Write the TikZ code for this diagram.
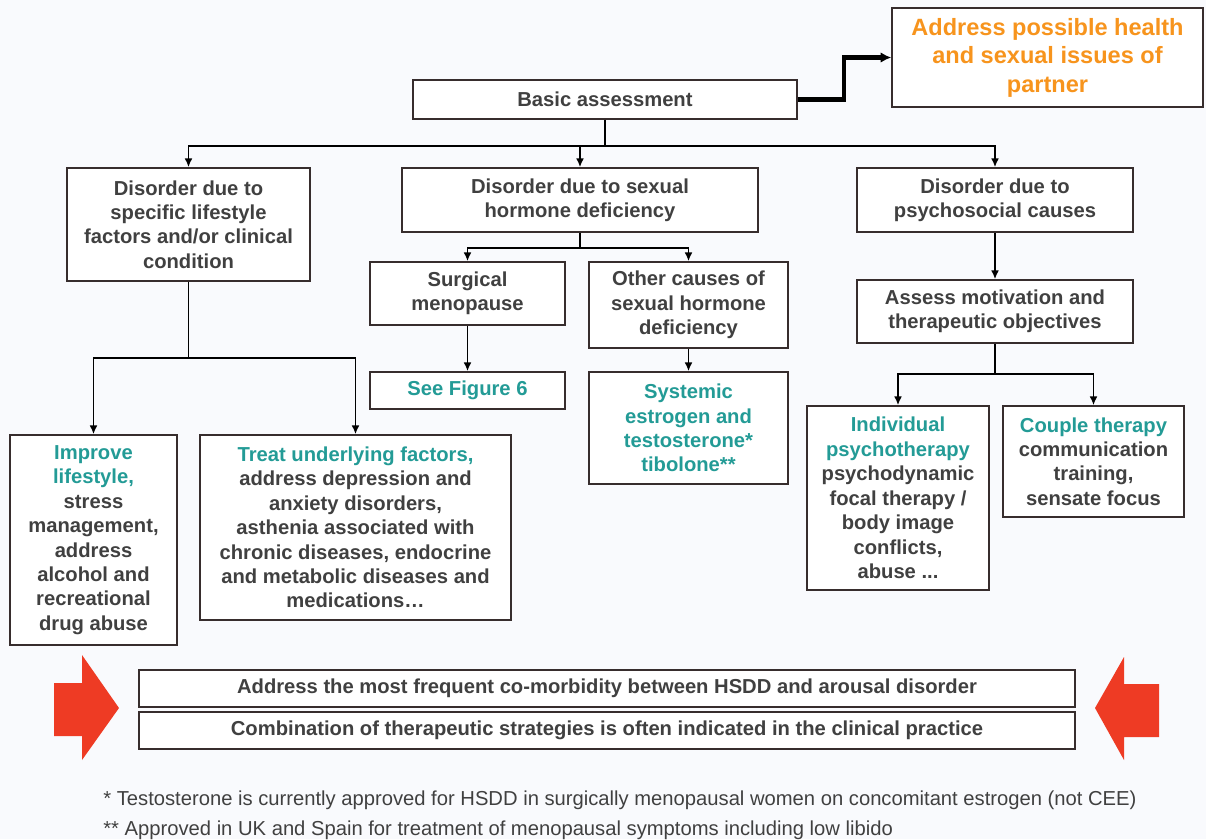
\documentclass[tikz,border=0pt]{standalone}
\usepackage{fontspec}
\setmainfont{Liberation Sans}
\usetikzlibrary{arrows.meta}

\definecolor{txtgray}{RGB}{64,64,64}
\definecolor{boxline}{RGB}{55,45,45}
\definecolor{tealtx}{RGB}{35,155,150}
\definecolor{orangetx}{RGB}{247,148,29}
\definecolor{redarrow}{RGB}{238,59,36}
\definecolor{bgpaper}{RGB}{249,250,253}

\newcommand{\tl}[1]{\textcolor{tealtx}{#1}}

\begin{document}
\begin{tikzpicture}[x=0.02cm,y=-0.02cm,
  box/.style={draw=boxline,line width=0.9pt,fill=white,align=center,text=txtgray,
    font=\fontsize{11.5}{13.9}\selectfont\bfseries,inner sep=2pt},
  link/.style={line width=1pt,-{Latex[length=5pt,width=4.5pt]}},
  note/.style={anchor=base west,inner sep=0pt,text=txtgray,font=\fontsize{11.5}{13.9}\selectfont}]

% Background
\fill[bgpaper] (0,0) rectangle (1206,839);
\useasboundingbox (0,0) rectangle (1206,839);

% Top level
\node[box,minimum width=7.68cm,minimum height=0.78cm] (basic) at (605,99.5) {Basic assessment};
\node[box,minimum width=6.22cm,minimum height=1.98cm,text=orangetx,
  font=\fontsize{13.4}{16.2}\selectfont\bfseries] (partner) at (1047.5,57.5)
  {Address possible health\\ and sexual issues of\\ partner};

% Second level
\node[box,minimum width=4.86cm,minimum height=2.26cm] (life) at (188.5,224.5)
  {Disorder due to\\ specific lifestyle\\ factors and/or clinical\\ condition};
\node[box,minimum width=7.12cm,minimum height=1.28cm] (hormone) at (580,200)
  {Disorder due to sexual\\ hormone deficiency};
\node[box,minimum width=5.52cm,minimum height=1.28cm] (psycho) at (995,200)
  {Disorder due to\\ psychosocial causes};

% Hormone branch
\node[box,minimum width=3.9cm,minimum height=1.26cm] (surgical) at (467.5,293.5)
  {Surgical\\ menopause};
\node[box,minimum width=3.98cm,minimum height=1.72cm] (other) at (688.5,305)
  {Other causes of\\ sexual hormone\\ deficiency};
\node[box,minimum width=3.9cm,minimum height=0.74cm] (seefig) at (467.5,390.5)
  {\tl{See Figure 6}};
\node[box,minimum width=3.98cm,minimum height=2.24cm] (systemic) at (688.5,428)
  {\tl{Systemic}\\ \tl{estrogen and}\\ \tl{testosterone*}\\ \tl{tibolone**}};

% Lifestyle branch
\node[box,minimum width=3.34cm,minimum height=4.2cm] (improve) at (93.5,540)
  {\tl{Improve}\\ \tl{lifestyle,}\\ stress\\ management,\\ address\\ alcohol and\\ recreational\\ drug abuse};
\node[box,minimum width=6.22cm,minimum height=3.7cm] (treat) at (355.5,527.5)
  {\tl{Treat underlying factors,}\\ address depression and\\ anxiety disorders,\\ asthenia associated with\\ chronic diseases, endocrine\\ and metabolic diseases and\\ medications\dots};

% Psychosocial branch
\node[box,minimum width=5.52cm,minimum height=1.26cm] (assess) at (995,311.5)
  {Assess motivation and\\ therapeutic objectives};
\node[box,minimum width=3.64cm,minimum height=3.68cm] (indiv) at (898,498)
  {\tl{Individual}\\ \tl{psychotherapy}\\ psychodynamic\\ focal therapy /\\ body image\\ conflicts,\\ abuse ...};
\node[box,minimum width=3.62cm,minimum height=2.22cm] (couple) at (1093.5,461.5)
  {\tl{Couple therapy}\\ communication\\ training,\\ sensate focus};

% Bottom boxes
\node[box,minimum width=18.72cm,minimum height=0.74cm] (comorb) at (607,688.5)
  {Address the most frequent co-morbidity between HSDD and arousal disorder};
\node[box,minimum width=18.72cm,minimum height=0.74cm] (combo) at (607,730.5)
  {Combination of therapeutic strategies is often indicated in the clinical practice};

% Connectors
\draw[line width=2.3pt,-{Latex[length=6pt,width=6pt]}] (basic.east) -- ++(46,0) |- (partner.west);
\draw[link] (basic.south) -- ++(0,26) -| (life.north);
\draw[link] (basic.south) -- ++(0,26) -| (hormone.north);
\draw[link] (basic.south) -- ++(0,26) -| (psycho.north);
\draw[link] (life.south) -- ++(0,76) -| (improve.north);
\draw[link] (life.south) -- ++(0,76) -| (treat.north);
\draw[link] (hormone.south) -- ++(0,15) -| (surgical.north);
\draw[link] (hormone.south) -- ++(0,15) -| (other.north);
\draw[link] (surgical) -- (seefig);
\draw[link] (other) -- (systemic);
\draw[link] (psycho) -- (assess);
\draw[link] (assess.south) -- ++(0,30) -| (indiv.north);
\draw[link] (assess.south) -- ++(0,30) -| (couple.north);

% Red arrows
\fill[redarrow] (54,683) -- (82,683) -- (82,655) -- (119,708) -- (82,760) -- (82,736) -- (54,736) -- cycle;
\fill[redarrow] (1159,684) -- (1124,684) -- (1124,657) -- (1095,708) -- (1124,760) -- (1124,737) -- (1159,737) -- cycle;

% Footnotes
\node[note] (fn1) at (103,805) {* Testosterone is currently approved for HSDD in surgically menopausal women on concomitant estrogen (not CEE)};
\node[note] (fn2) at (103,835) {** Approved in UK and Spain for treatment of menopausal symptoms including low libido};

\end{tikzpicture}
\end{document}
